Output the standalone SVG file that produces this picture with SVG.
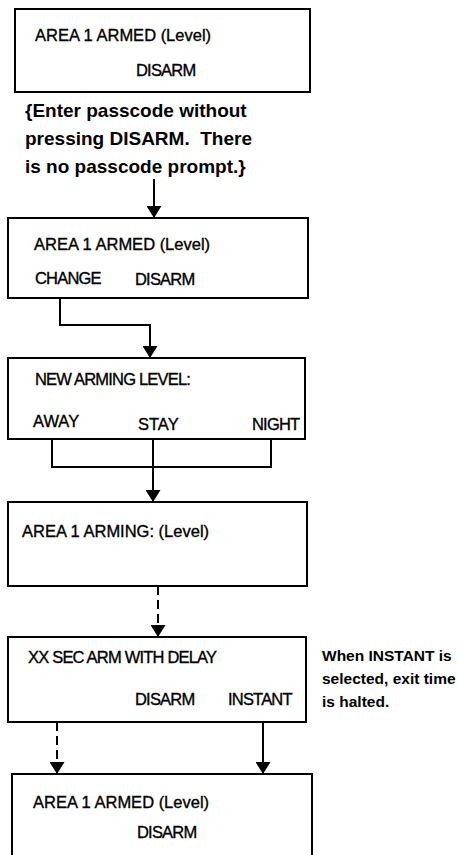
<svg xmlns="http://www.w3.org/2000/svg" width="458" height="855" viewBox="0 0 458 855">
<style>
.box{fill:#fff;stroke:#000;stroke-width:2}
.t{font-family:"Liberation Sans",Arial,Helvetica,sans-serif;font-size:16.5px;fill:#000;stroke:#000;stroke-width:0.35px;letter-spacing:0}
.tc{letter-spacing:-0.8px}
.cap{font-family:"Liberation Sans",Arial,Helvetica,sans-serif;font-size:19px;font-weight:bold;fill:#000}
.note{font-family:"Liberation Sans",Arial,Helvetica,sans-serif;font-size:15.5px;font-weight:bold;fill:#000}
.ln{fill:none;stroke:#000;stroke-width:2}
.dash{stroke-dasharray:9 5}
.arr{marker-end:url(#ah)}
</style>
<defs>
<marker id="ah" viewBox="0 0 12 15" refX="11" refY="7.5" markerWidth="12" markerHeight="15" markerUnits="userSpaceOnUse" orient="auto">
<path d="M0,0 L12,7.5 L0,15 z" fill="#000"/>
</marker>
</defs>
<rect width="458" height="855" fill="#fff"/>
<g id="n1">
<rect class="box" x="15" y="9" width="295" height="83"/>
<text class="t" x="35" y="41">AREA 1 ARMED (Level)</text>
<text class="t tc" x="136" y="76">DISARM</text>
</g>
<g id="caption">
<text class="cap" x="25" y="117">{Enter passcode without</text>
<text class="cap" x="25" y="145" xml:space="preserve">pressing DISARM.  There</text>
<text class="cap" x="25" y="173">is no passcode prompt.}</text>
</g>
<g id="n2">
<rect class="box" x="8" y="218" width="300" height="80"/>
<text class="t" x="34" y="250">AREA 1 ARMED (Level)</text>
<text class="t tc" x="35" y="284">CHANGE</text>
<text class="t tc" x="135" y="285">DISARM</text>
</g>
<g id="n3">
<rect class="box" x="8" y="358" width="297" height="81"/>
<text class="t tc" x="35" y="385">NEW ARMING LEVEL:</text>
<text class="t" x="33" y="427">AWAY</text>
<text class="t" x="138" y="430">STAY</text>
<text class="t tc" x="252" y="430">NIGHT</text>
</g>
<g id="n4">
<rect class="box" x="8" y="502" width="299" height="84"/>
<text class="t" x="22" y="537">AREA 1 ARMING: (Level)</text>
</g>
<g id="n5">
<rect class="box" x="8" y="637" width="298" height="85"/>
<text class="t tc" x="28" y="663">XX SEC ARM WITH DELAY</text>
<text class="t tc" x="135" y="705">DISARM</text>
<text class="t tc" x="228" y="705">INSTANT</text>
</g>
<g id="note">
<text class="note" x="322" y="661">When INSTANT is</text>
<text class="note" x="322" y="684">selected, exit time</text>
<text class="note" x="322" y="707">is halted.</text>
</g>
<g id="n6">
<rect class="box" x="12" y="774" width="300" height="82"/>
<text class="t" x="33" y="808">AREA 1 ARMED (Level)</text>
<text class="t tc" x="137" y="838">DISARM</text>
</g>
<g id="connectors">
<path class="ln arr" d="M154,179 V217"/>
<path class="ln arr" d="M60,298 V325 H150 V357"/>
<path class="ln" d="M52,439 V467 H271 V439"/>
<path class="ln arr" d="M153,439 V501"/>
<path class="ln dash arr" d="M158,586 V636"/>
<path class="ln dash arr" d="M57,722 V773"/>
<path class="ln arr" d="M263,722 V773"/>
</g>
</svg>
